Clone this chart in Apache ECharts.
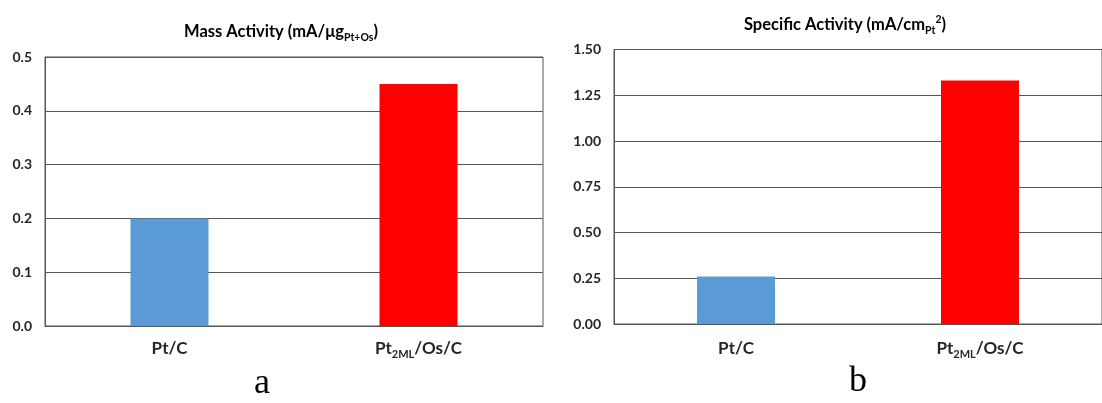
<!DOCTYPE html>
<html>
<head>
<meta charset="utf-8">
<style>
  html, body { margin: 0; padding: 0; background: #fff; }
  #chart { width: 1102px; height: 403px; }
</style>
<script src="https://cdn.jsdelivr.net/npm/echarts@6/dist/echarts.min.js"></script>
</head>
<body>
<div id="chart"></div>
<script>
// Catalyst names (rich-text keys mark the subscript part)
const categories = ['Pt/C', 'Pt2ML/Os/C'];
const categoryLabels = ['Pt/C', 'Pt{sub|2ML}/Os/C'];

// Mass activity, mA/µg(Pt+Os)
const massActivity = [0.20, 0.45];
const massTicks = { min: 0, max: 0.5, interval: 0.1, decimals: 1 };

// Specific activity, mA/cm²(Pt)
const specificActivity = [0.26, 1.33];
const specificTicks = { min: 0, max: 1.5, interval: 0.25, decimals: 2 };

const barColors = ['#5B9BD5', '#FF0000'];

const FONT = 'Lato, "Open Sans", sans-serif';
const INK = '#262626';
const LINE = '#555555';

function richSet(size, subSize) {
  return {
    base: { fontFamily: FONT, fontWeight: 'bold', fontSize: size, color: INK, lineHeight: size + 5 },
    sub: { fontFamily: FONT, fontWeight: 'bold', fontSize: subSize, color: INK, lineHeight: subSize + 1, verticalAlign: 'bottom' },
    sup: { fontFamily: FONT, fontWeight: 'bold', fontSize: subSize, color: INK, lineHeight: subSize + 1, verticalAlign: 'top' }
  };
}

const labelRich = richSet(17, 11);
const titleRich = richSet(16.5, 10.5);

function catAxis(gridIndex, margin) {
  return {
    type: 'category',
    gridIndex: gridIndex,
    data: categories,
    axisTick: { show: false },
    axisLine: { show: true, lineStyle: { color: LINE, width: 1 } },
    axisLabel: {
      margin: margin,
      formatter: function (v, i) {
        return '{base|' + categoryLabels[i].replace(/\{sub\|([^}]*)\}/g, '}{sub|$1}{base|') + '}';
      },
      rich: labelRich
    }
  };
}

function valAxis(gridIndex, t) {
  return {
    type: 'value',
    gridIndex: gridIndex,
    min: t.min,
    max: t.max,
    interval: t.interval,
    axisLine: { show: true, lineStyle: { color: LINE, width: 1 } },
    axisTick: { show: false },
    splitLine: { show: true, lineStyle: { color: LINE, width: 1 } },
    axisLabel: {
      margin: 13,
      fontFamily: FONT,
      fontWeight: 'bold',
      fontSize: 14,
      color: INK,
      formatter: function (v) { return v.toFixed(t.decimals); }
    }
  };
}

function barSeries(index, values) {
  return {
    type: 'bar',
    xAxisIndex: index,
    yAxisIndex: index,
    barWidth: 78,
    data: values.map(function (v, i) {
      return { value: v, itemStyle: { color: barColors[i] } };
    }),
    silent: true
  };
}

const chart = echarts.init(document.getElementById('chart'), null, { renderer: 'canvas' });

chart.setOption({
  animation: false,
  backgroundColor: '#ffffff',
  grid: [
    { left: 45, top: 57, width: 498, height: 269, show: true, borderColor: LINE, borderWidth: 1, backgroundColor: 'transparent' },
    { left: 614, top: 49.5, width: 499, height: 274.5, show: true, borderColor: LINE, borderWidth: 1, backgroundColor: 'transparent' }
  ],
  xAxis: [catAxis(0, 12), catAxis(1, 14)],
  yAxis: [valAxis(0, massTicks), valAxis(1, specificTicks)],
  series: [barSeries(0, massActivity), barSeries(1, specificActivity)],
  graphic: [
    {
      type: 'text', x: 281, y: 32,
      style: {
        text: '{base|Mass Activity (mA/μg}{sub|Pt+Os}{base|)}',
        rich: titleRich, align: 'center', verticalAlign: 'middle'
      }
    },
    {
      type: 'text', x: 845, y: 25,
      style: {
        text: '{base|Specific Activity (mA/cm}{sub|Pt}{sup|2}{base|)}',
        rich: titleRich, align: 'center', verticalAlign: 'middle'
      }
    },
    {
      type: 'text', x: 262, y: 384,
      style: {
        text: 'a', fontFamily: '"Liberation Serif", "DejaVu Serif", serif',
        fontSize: 36, fill: '#000', align: 'center', verticalAlign: 'middle'
      }
    },
    {
      type: 'text', x: 858, y: 382,
      style: {
        text: 'b', fontFamily: '"Liberation Serif", "DejaVu Serif", serif',
        fontSize: 36, fill: '#000', align: 'center', verticalAlign: 'middle'
      }
    }
  ]
});
</script>
</body>
</html>
